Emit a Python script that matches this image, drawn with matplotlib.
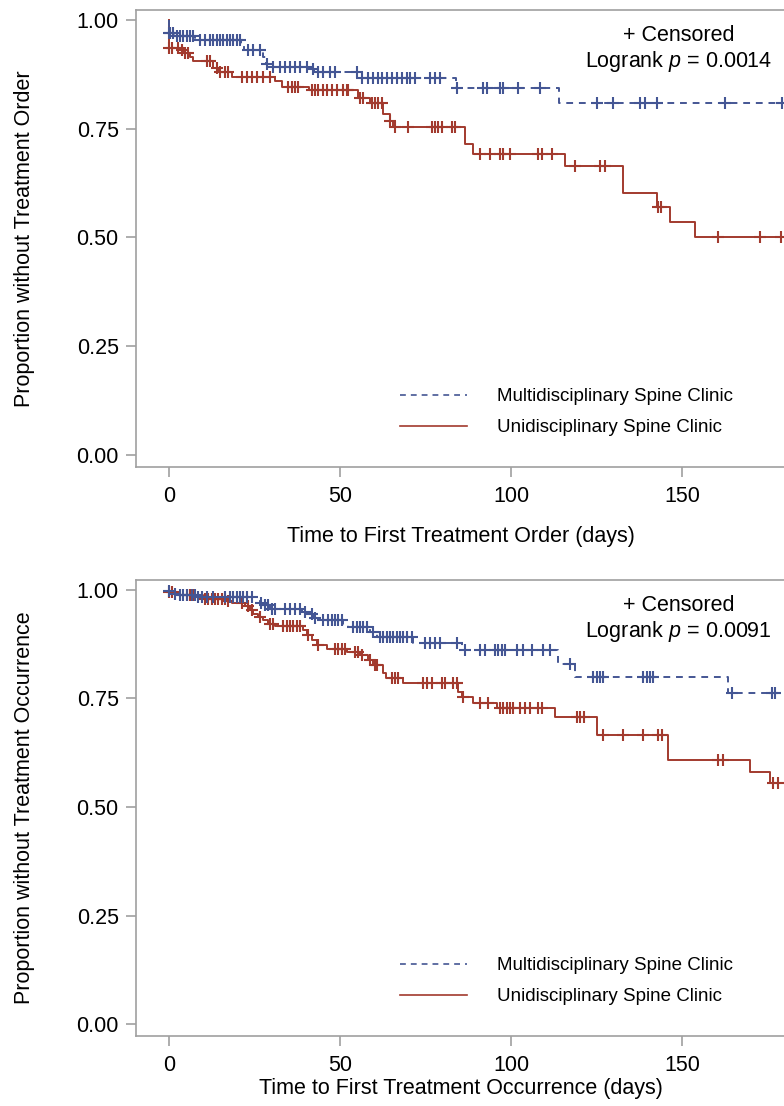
import numpy as np
import matplotlib
matplotlib.use("Agg")
import matplotlib.pyplot as plt
from matplotlib.lines import Line2D

plt.rcParams['font.family'] = ['Liberation Sans', 'DejaVu Sans']
plt.rcParams['mathtext.fontset'] = 'custom'
plt.rcParams['mathtext.rm'] = 'Liberation Sans'
plt.rcParams['mathtext.it'] = 'Liberation Sans:italic'

# ---- data ----
# top panel: time to first treatment order
mult_order_t = [0, 1.5, 7.5, 9, 21, 22, 27.5, 28.5, 30, 41, 42.5, 55, 84, 114]
mult_order_s = [0.970, 0.964, 0.959, 0.954, 0.940, 0.931, 0.915, 0.900, 0.893,
                0.887, 0.881, 0.867, 0.844, 0.810]
mult_order_c = [0, 0.3, 1.3, 2.2, 3.2, 4.2, 5.2, 6.1, 7.1, 9.1, 10.5, 12, 13, 13.9,
                14.9, 15.9, 16.9, 17.8, 18.8, 19.8, 20.8, 23.2, 24.7, 26.6, 28.6,
                30.5, 32.5, 33.9, 35.4, 36.8, 38.3, 40.3, 42.2, 43.7, 45.1, 47.1,
                48.5, 54.9, 56.3, 58.3, 59.7, 61.2, 62.2, 63.6, 65.1, 66.6, 68,
                69.5, 70.5, 71.9, 76.3, 77.8, 79.2, 84.1, 91.9, 92.9, 96.8, 97.7,
                102.1, 108.5, 125.1, 129.8, 137.7, 139.2, 142.7, 162.6, 179.2]

uni_order_t = [0, 3, 4.5, 6, 7, 13, 14.5, 18.5, 31, 33, 41, 55.3, 58.8, 62.6, 64.6,
               65.5, 86.5, 89, 115.8, 132.7, 142.7, 146.5, 153.8]
uni_order_s = [0.935, 0.930, 0.923, 0.915, 0.905, 0.889, 0.880, 0.870, 0.859,
               0.847, 0.838, 0.820, 0.810, 0.785, 0.768, 0.754, 0.715, 0.693,
               0.665, 0.602, 0.570, 0.536, 0.501]
uni_order_c = [0, 0.8, 2.7, 3.7, 4.7, 5.7, 11, 12, 13.9, 14.9, 16.4, 17.3, 21.2,
               22.7, 24.2, 25.6, 27.6, 29.5, 34.9, 35.9, 36.8, 37.8, 41.7, 42.7,
               43.7, 45.1, 46.1, 47.6, 49, 51, 51.9, 52.4, 55.8, 56.7, 59.3, 60.2,
               61.2, 62.2, 64.6, 66.1, 69.9, 76.8, 77.8, 78.7, 79.7, 82.7, 83.6,
               91, 93.9, 96.8, 97.7, 99.7, 108, 109, 112, 118.7, 126, 127.5, 143,
               143.8, 160.5, 172.8, 179]

# bottom panel: time to first treatment occurrence
mult_occ_t = [0, 1.3, 2.7, 8, 25.6, 26.6, 27.5, 29.5, 39, 40, 42, 44, 51, 52.4,
              58.8, 60.7, 71.4, 85.6, 113.7, 118.7, 163.5]
mult_occ_s = [0.998, 0.991, 0.988, 0.984, 0.977, 0.971, 0.965, 0.957, 0.949, 0.944,
              0.936, 0.931, 0.920, 0.915, 0.903, 0.892, 0.877, 0.862, 0.830,
              0.800, 0.763]
mult_occ_c = [0.1, 1.8, 3.2, 4.2, 5.2, 6.6, 7.6, 8.6, 9.6, 11, 13, 16.4, 17.8, 18.8,
              19.8, 20.8, 21.7, 22.7, 24.2, 26.9, 28.1, 29, 30, 31, 33.9, 35.4,
              36.8, 38.3, 39.8, 41.7, 42.7, 45.1, 46.6, 47.6, 48.5, 49.5, 50.5,
              53.9, 54.9, 55.8, 56.8, 57.8, 59.7, 61.7, 62.7, 63.6, 64.6, 65.6,
              66.6, 67.5, 68.5, 69.5, 71, 74.9, 76.3, 77.8, 79.2, 84.1, 86.5, 90.9,
              92.4, 95.3, 96.3, 97.3, 98.2, 101.7, 103.6, 106, 109.4, 111.4, 117.3,
              124.1, 125, 126, 127, 138.7, 139.7, 140.7, 141.6, 164.5, 176.2, 177.2]

uni_occ_t = [0, 3.2, 10, 16.9, 18.3, 22.2, 23.7, 24.7, 26.1, 27.6, 29, 31, 39.3,
             40.3, 41.7, 43.2, 46.1, 52, 55.8, 58.3, 59.7, 62.7, 63.5, 68.5, 84.5,
             85.6, 89, 95.8, 112.9, 125, 146, 169.9, 175.7]
uni_occ_s = [0.995, 0.988, 0.980, 0.975, 0.971, 0.963, 0.953, 0.945, 0.938, 0.930,
             0.922, 0.917, 0.907, 0.896, 0.884, 0.873, 0.865, 0.857, 0.850, 0.838,
             0.827, 0.808, 0.797, 0.785, 0.766, 0.754, 0.739, 0.728, 0.708, 0.666,
             0.608, 0.581, 0.555]
uni_occ_c = [0, 0.8, 5.2, 6.1, 7.1, 10.5, 11.5, 12.5, 13.5, 14.4, 15.4, 16.4, 17.3,
             21.2, 23.2, 24.2, 26.6, 29.5, 30.5, 33.4, 34.4, 35.4, 36.3, 37.3, 38.3,
             40.7, 43.5, 48.5, 49.5, 50.5, 51.4, 54.4, 55.3, 56.3, 58.8, 60.2, 60.7,
             65.1, 66.1, 67.1, 74.4, 75.3, 76.8, 79.7, 80.7, 83.1, 84.1, 86.1, 90.9,
             93.4, 96.8, 97.7, 98.7, 99.7, 100.7, 102.6, 104.1, 105.6, 108, 109,
             119.2, 120.2, 121.2, 127, 132.8, 138.7, 143, 144, 160.6, 162.1, 176.7,
             178.2]

x_ticks = [0, 50, 100, 150]
y_ticks = [0.0, 0.25, 0.50, 0.75, 1.00]
groups = ['Multidisciplinary Spine Clinic', 'Unidisciplinary Spine Clinic']

BLUE = '#445694'
RED = '#A23A2E'
GRAY = '#A0A0A0'
XMIN, XMAX = -9.65, 180.4
DASH = (0, (3.5, 3))


def km_draw(ax, t, s, cens, color, ls):
    # step curve starts at 1.0 at time 0
    tt = np.r_[0, t, XMAX]
    ss = np.r_[1.0, s, s[-1]]
    ax.step(tt, ss, where='post', color=color, lw=1.4, ls=ls, zorder=3)
    idx = np.searchsorted(np.asarray(t), np.asarray(cens), side='right') - 1
    cy = np.asarray(s)[np.clip(idx, 0, None)]
    ax.plot(cens, cy, ls='none', marker='+', ms=9, mew=1.5, color=color, zorder=4)


def panel(ax, mult, uni, pval, xlabel, ylabel, xlab_y):
    km_draw(ax, *uni, RED, '-')
    km_draw(ax, *mult, BLUE, DASH)

    ax.set_xlim(XMIN, XMAX)
    ax.set_ylim(-0.0276, 1.023)
    ax.set_xticks(x_ticks)
    ax.set_yticks(y_ticks)
    ax.set_yticklabels([f'{v:.2f}' for v in y_ticks])
    for sp in ax.spines.values():
        sp.set_color(GRAY)
        sp.set_linewidth(1.2)
    ax.tick_params(colors=GRAY, labelcolor='black', labelsize=15.5,
                   length=7.5, width=1.2)
    ax.tick_params(axis='x', pad=6)
    ax.tick_params(axis='y', pad=5)
    ax.set_xlabel(xlabel, fontsize=15.5)
    ax.set_ylabel(ylabel, fontsize=15.5)
    ax.xaxis.set_label_coords(0.5, xlab_y)
    ax.yaxis.set_label_coords(-0.155, 0.5)

    ax.text(0.835, 0.945, '+ Censored', transform=ax.transAxes,
            ha='center', va='center', fontsize=15.5)
    ax.text(0.835, 0.888, 'Logrank $p$ = ' + pval, transform=ax.transAxes,
            ha='center', va='center', fontsize=15.5)

    handles = [Line2D([], [], color=BLUE, lw=1.2, ls=DASH),
               Line2D([], [], color=RED, lw=1.2)]
    ax.legend(handles, groups, loc='center left', bbox_to_anchor=(0.406, 0.12),
              frameon=False, fontsize=13.5, handlelength=3.6, handletextpad=1.6,
              labelspacing=0.75, borderpad=0, borderaxespad=0)


fig = plt.figure(figsize=(7.84, 11.06), dpi=100)
W, H = 784, 1106
left = 136 / W
width = (786 - 136) / W
ax1 = fig.add_axes([left, 1 - 467 / H, width, (467 - 10) / H])
ax2 = fig.add_axes([left, 1 - 1036 / H, width, (1036 - 580) / H])

panel(ax1, (mult_order_t, mult_order_s, mult_order_c),
      (uni_order_t, uni_order_s, uni_order_c), '0.0014',
      'Time to First Treatment Order (days)', 'Proportion without Treatment Order',
      -0.129)
panel(ax2, (mult_occ_t, mult_occ_s, mult_occ_c),
      (uni_occ_t, uni_occ_s, uni_occ_c), '0.0091',
      'Time to First Treatment Occurrence (days)',
      'Proportion without Treatment Occurrence', -0.092)

fig.savefig('out.png', dpi=100)
